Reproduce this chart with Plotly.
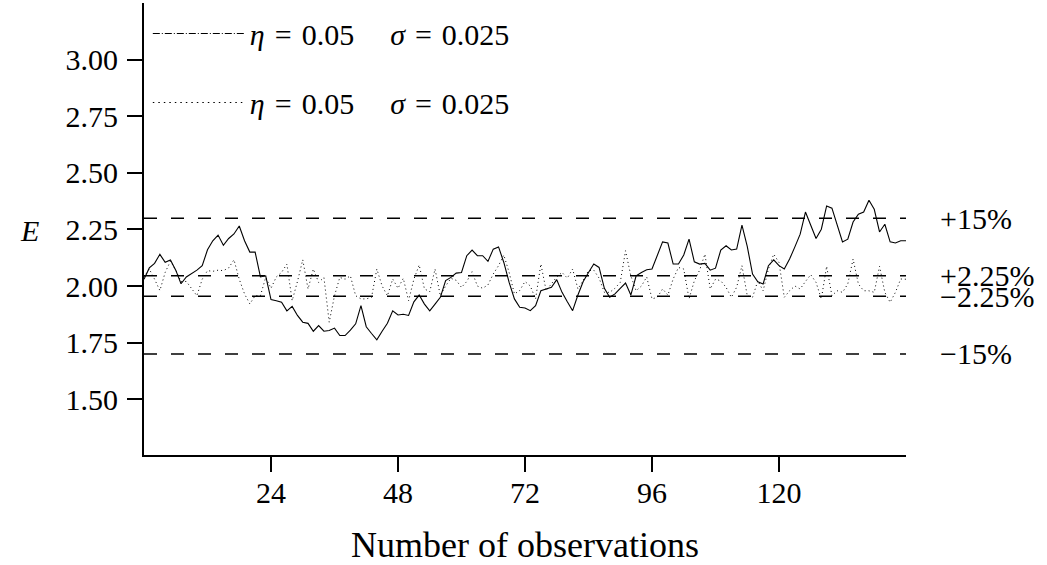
import plotly.graph_objects as go

# Observation index
obs = list(range(0, 145))

# Series 1 (solid line): eta = 0.05, sigma = 0.025
series_a = [
    2.03, 2.08, 2.10, 2.14, 2.105, 2.115, 2.07, 2.01, 2.04, 2.055,
    2.07, 2.09, 2.16, 2.20, 2.225, 2.18, 2.21, 2.23, 2.265, 2.20,
    2.15, 2.15, 2.04, 2.045, 1.94, 1.935, 1.928, 1.89, 1.91, 1.87,
    1.84, 1.835, 1.80, 1.825, 1.80, 1.803, 1.814, 1.781, 1.781, 1.805,
    1.833, 1.913, 1.82, 1.79, 1.762, 1.80, 1.835, 1.89, 1.872, 1.875,
    1.87, 1.93, 1.96, 1.92, 1.89, 1.92, 1.95, 2.024, 2.038, 2.057,
    2.06, 2.134, 2.159, 2.134, 2.134, 2.109, 2.163, 2.173, 2.104, 2.016,
    1.943, 1.906, 1.903, 1.891, 1.913, 1.979, 1.987, 1.994, 2.028, 1.972,
    1.93, 1.891, 1.96, 2.02, 2.06, 2.097, 2.082, 1.99, 1.95, 1.965,
    1.99, 2.013, 1.96, 2.045, 2.06, 2.072, 2.075, 2.134, 2.195, 2.19,
    2.097, 2.097, 2.137, 2.207, 2.107, 2.097, 2.10, 2.07, 2.079, 2.159,
    2.178, 2.159, 2.163, 2.269, 2.175, 2.053, 2.019, 2.009, 2.09, 2.116,
    2.09, 2.075, 2.119, 2.173, 2.229, 2.327, 2.266, 2.21, 2.251, 2.354,
    2.344, 2.266, 2.195, 2.207, 2.283, 2.317, 2.327, 2.379, 2.339, 2.239,
    2.273, 2.195, 2.19, 2.20, 2.20,
]

# Series 2 (dotted line): eta = 0.05, sigma = 0.025
series_b = [
    2.04, 2.075, 2.03, 1.98, 2.06, 2.11, 2.07, 2.02, 2.02, 1.99,
    1.957, 2.03, 2.068, 2.065, 2.07, 2.068, 2.08, 2.116, 2.03, 1.965,
    1.921, 1.957, 1.957, 2.038, 1.99, 2.04, 2.06, 2.097, 1.935, 2.02,
    2.116, 1.987, 2.075, 2.016, 2.038, 1.84, 1.957, 2.038, 2.03, 2.045,
    1.957, 1.943, 1.943, 1.95, 2.075, 2.0, 1.957, 2.031, 1.99, 2.034,
    1.935, 2.03, 2.093, 1.987, 1.975, 2.075, 1.957, 2.0, 2.034, 2.025,
    1.994, 2.02, 2.063, 2.0, 1.99, 2.005, 2.053, 2.09, 2.137, 2.06,
    1.965, 1.98, 2.02, 2.0, 1.943, 2.097, 1.979, 2.01, 2.04, 2.06,
    2.035, 2.075, 1.987, 2.025, 2.068, 2.07, 2.035, 1.972, 1.972, 1.99,
    2.016, 2.156, 2.045, 1.979, 2.0, 2.04, 1.943, 1.95, 1.987, 1.96,
    2.031, 2.082, 2.075, 1.943, 2.023, 2.07, 2.141, 1.987, 2.03, 2.023,
    1.994, 1.95, 1.995, 2.09, 1.957, 1.95, 2.023, 1.979, 2.075, 2.141,
    2.104, 1.95, 1.979, 2.0, 1.987, 2.02, 2.05, 2.016, 1.943, 2.087,
    1.957, 1.979, 1.972, 2.009, 2.119, 2.009, 1.979, 1.979, 1.972, 2.087,
    1.972, 1.928, 1.972, 2.031, 2.03,
]

# Reference bands around E = 2.0
band_levels = [2.30, 2.045, 1.955, 1.70]
band_labels = ["+15%", "+2.25%", "\u22122.25%", "\u221215%"]

x_ticks = [24, 48, 72, 96, 120]
y_ticks = [1.50, 1.75, 2.00, 2.25, 2.50, 2.75, 3.00]

legend_text = ("<i>\u03b7</i>\u2004=\u20040.05\u2003\u2009"
               "<i>\u03c3</i>\u2004=\u20040.025")

FONT = "Liberation Serif"
FS = 30

fig = go.Figure()

for lvl in band_levels:
    fig.add_trace(go.Scatter(
        x=[obs[0], obs[-1]], y=[lvl, lvl], mode="lines",
        line=dict(color="black", width=1.5, dash="13px,14px"),
        showlegend=False, hoverinfo="skip"))

fig.add_trace(go.Scatter(x=obs, y=series_a, mode="lines",
                         line=dict(color="black", width=1.1),
                         showlegend=False))
fig.add_trace(go.Scatter(x=obs, y=series_b, mode="lines",
                         line=dict(color="black", width=1, dash="1px,3px"),
                         showlegend=False))

# legend entries
fig.add_trace(go.Scatter(x=[None], y=[None], mode="lines", name=legend_text,
                         line=dict(color="black", width=1.2, dash="7px,2px,1px,2px"),
                         legendgroup="a"))
fig.add_trace(go.Scatter(x=[None], y=[None], mode="lines", name=legend_text,
                         line=dict(color="black", width=1.2, dash="1.5px,4px"),
                         legendgroup="b"))

annotations = []
for lvl, lab in zip(band_levels, band_labels):
    annotations.append(dict(x=1.042, xref="paper", y=lvl, yref="y", text=lab,
                            showarrow=False, xanchor="left", yanchor="middle",
                            font=dict(family=FONT, size=FS, color="black")))
annotations.append(dict(x=-0.165, xref="paper", y=2.245, yref="y", text="<i>E</i>",
                        showarrow=False, xanchor="left", yanchor="middle",
                        font=dict(family=FONT, size=FS, color="black")))

fig.update_layout(
    width=1047, height=565,
    margin=dict(l=144, r=141, t=3, b=108),
    paper_bgcolor="white", plot_bgcolor="white",
    font=dict(family=FONT, size=FS, color="black"),
    showlegend=True,
    legend=dict(x=0.005, y=0.99, xanchor="left", yanchor="top",
                bgcolor="rgba(0,0,0,0)", borderwidth=0,
                traceorder="grouped", tracegroupgap=27, itemwidth=92,
                font=dict(family=FONT, size=FS, color="black")),
    annotations=annotations,
    xaxis=dict(range=[0, 144], tickvals=x_ticks, ticks="outside", ticklen=15,
               tickwidth=2, tickcolor="black", showline=True, linecolor="black",
               linewidth=2, showgrid=False, zeroline=False,
               ticklabelstandoff=-5,
               title=dict(text="Number of observations", standoff=28)),
    yaxis=dict(range=[1.253, 3.251], tickvals=y_ticks, tickformat=".2f",
               ticks="outside", ticklen=15, tickwidth=2, tickcolor="black",
               showline=True, linecolor="black", linewidth=2, showgrid=False,
               zeroline=False, ticklabelstandoff=3),
)

fig.write_html("out.html")
